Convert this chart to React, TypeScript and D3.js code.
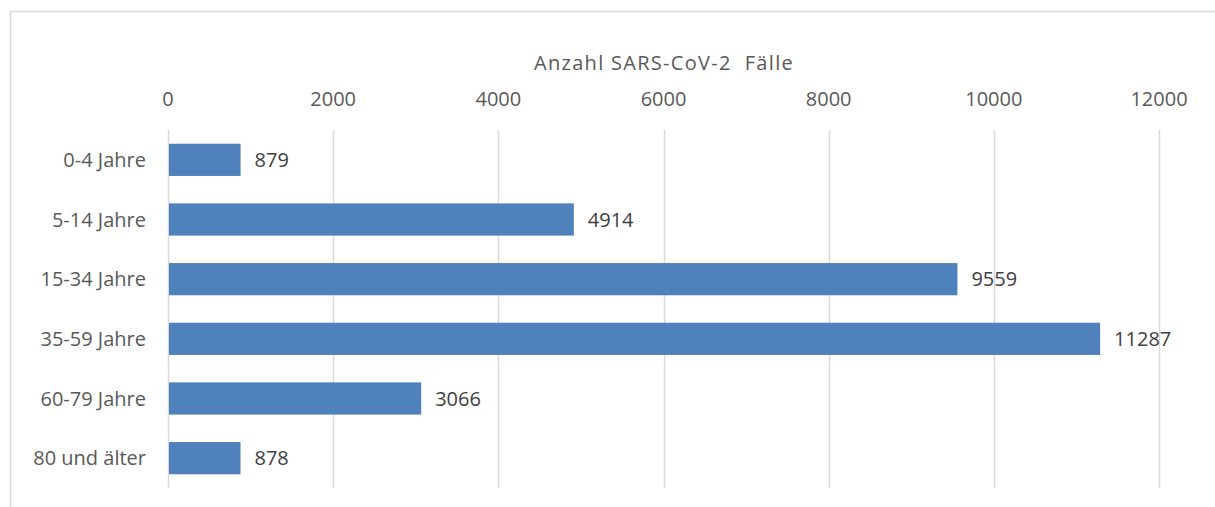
import { useEffect, useRef } from "react";
import * as d3 from "d3";

const categories = ["0-4 Jahre", "5-14 Jahre", "15-34 Jahre", "35-59 Jahre", "60-79 Jahre", "80 und älter"];
const cases = [879, 4914, 9559, 11287, 3066, 878];
const ticks = [0, 2000, 4000, 6000, 8000, 10000, 12000];
const axisTitle = "Anzahl SARS-CoV-2  Fälle";

export default function App() {
	const svgRef = useRef<SVGSVGElement>(null);

	useEffect(() => {
		if (!svgRef.current) return;
		const width = 1215;
		const height = 507;
		const svg = d3.select(svgRef.current);
		svg.selectAll("*").remove();

		const font = "'Open Sans', sans-serif";
		const fontSize = 20;

		// chart frame
		svg
			.append("rect")
			.attr("x", 10.5)
			.attr("y", 11.5)
			.attr("width", width + 10)
			.attr("height", height + 10)
			.attr("fill", "#fff")
			.attr("stroke", "#d9d9d9")
			.attr("stroke-width", 1.5);

		const x = d3.scaleLinear().domain([0, 12000]).range([168, 1159]);
		const y = d3.scaleBand().domain(categories).range([130, 488]).paddingInner(0.46).paddingOuter(0.23);

		// grid
		svg
			.append("g")
			.selectAll("line")
			.data(ticks)
			.join("line")
			.attr("x1", (d) => Math.round(x(d)) + 0.5)
			.attr("x2", (d) => Math.round(x(d)) + 0.5)
			.attr("y1", 130)
			.attr("y2", 488)
			.attr("stroke", "#d9d9d9")
			.attr("stroke-width", 1.5);

		// tick labels on top
		svg
			.append("g")
			.selectAll("text")
			.data(ticks)
			.join("text")
			.attr("x", (d) => x(d))
			.attr("y", 99)
			.attr("dy", "0.35em")
			.attr("text-anchor", "middle")
			.attr("font-family", font)
			.attr("font-size", fontSize)
			.attr("fill", "#595959")
			.text((d) => d);

		svg
			.append("text")
			.attr("x", 664)
			.attr("y", 63)
			.attr("dy", "0.35em")
			.attr("text-anchor", "middle")
			.attr("font-family", font)
			.attr("font-size", fontSize)
			.attr("letter-spacing", 1.3)
			.attr("fill", "#595959")
			.style("white-space", "pre")
			.text(axisTitle);

		// bars
		svg
			.append("g")
			.selectAll("rect")
			.data(cases)
			.join("rect")
			.attr("x", x(0) + 1)
			.attr("y", (_, i) => y(categories[i]) as number)
			.attr("width", (d) => x(d) - x(0) - 1)
			.attr("height", y.bandwidth())
			.attr("fill", "#4f81bd");

		// category labels
		svg
			.append("g")
			.selectAll("text")
			.data(categories)
			.join("text")
			.attr("x", 146)
			.attr("y", (d) => (y(d) as number) + y.bandwidth() / 2)
			.attr("dy", "0.35em")
			.attr("text-anchor", "end")
			.attr("font-family", font)
			.attr("font-size", fontSize)
			.attr("fill", "#595959")
			.text((d) => d);

		// value labels
		svg
			.append("g")
			.selectAll("text")
			.data(cases)
			.join("text")
			.attr("x", (d) => x(d) + 14)
			.attr("y", (_, i) => (y(categories[i]) as number) + y.bandwidth() / 2)
			.attr("dy", "0.35em")
			.attr("font-family", font)
			.attr("font-size", fontSize)
			.attr("fill", "#404040")
			.text((d) => d);
	}, []);

	return (
		<svg
			ref={svgRef}
			width={1215}
			height={507}
			style={{ position: "absolute", left: 0, top: 0, display: "block" }}
		/>
	);
}
